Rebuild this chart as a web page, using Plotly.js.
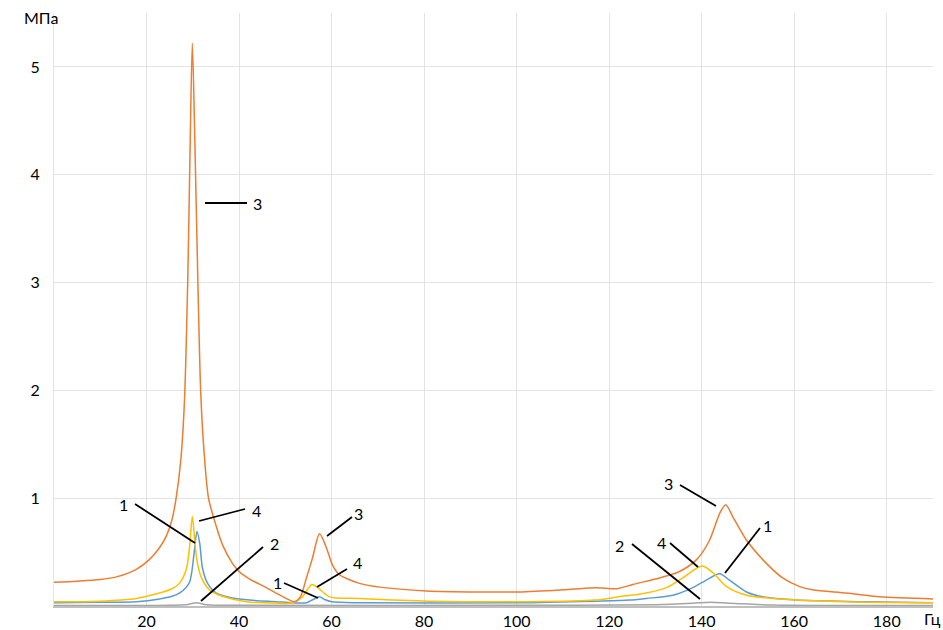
<!DOCTYPE html>
<html>
<head>
<meta charset="utf-8">
<script src="https://cdn.plot.ly/plotly-3.0.1.min.js"></script>
<style>html,body{margin:0;padding:0;background:#fff;}#chart{width:943px;height:630px;}</style>
</head>
<body>
<div id="chart"></div>
<script>
// Series 1 (blue)
const x1 = [0, 10, 17.8, 22.8, 25.5, 27.1, 28.5, 29.3, 29.8, 30.3, 30.9, 31.5, 32.1, 33.2, 35.1, 38.6, 42.3, 48, 51.6, 54.6, 56, 57.4, 58.5, 60, 66, 100, 117, 124.4, 128, 133.8, 138.1, 141, 143.9, 146, 149.7, 153.2, 160.5, 175, 190];
const y1 = [0.03, 0.035, 0.04, 0.065, 0.09, 0.12, 0.17, 0.22, 0.32, 0.5, 0.69, 0.58, 0.35, 0.21, 0.12, 0.075, 0.055, 0.04, 0.03, 0.03, 0.06, 0.085, 0.06, 0.04, 0.03, 0.03, 0.045, 0.055, 0.07, 0.1, 0.17, 0.24, 0.3, 0.24, 0.13, 0.085, 0.055, 0.04, 0.03];
// Series 2 (grey)
const x2 = [0, 25, 29, 30.8, 33, 40, 100, 130, 138, 142, 146, 155, 190];
const y2 = [0.005, 0.008, 0.015, 0.03, 0.012, 0.006, 0.006, 0.012, 0.025, 0.035, 0.025, 0.01, 0.005];
// Series 3 (orange)
const x3 = [0, 5, 10, 13.5, 17.8, 20.6, 22.8, 24.3, 25.5, 26.4, 27.4, 28.2, 28.9, 29.4, 29.9, 30.4, 31.1, 31.7, 32.4, 33.4, 35, 36.5, 38.5, 40, 42.3, 45.9, 48, 50.2, 52, 53.3, 54.5, 55.9, 57.4, 58.8, 60.2, 61.7, 63.5, 66, 70.4, 80.5, 92, 100.6, 110, 117.3, 121.6, 125.1, 130.9, 135.2, 138.9, 141.7, 143.9, 145.2, 146.7, 149.7, 153.2, 157.5, 161.2, 164, 171.3, 178.5, 190];
const y3 = [0.22, 0.23, 0.245, 0.27, 0.34, 0.43, 0.54, 0.65, 0.8, 1.0, 1.35, 1.9, 3.0, 4.2, 5.22, 4.4, 3.0, 2.0, 1.45, 1.0, 0.75, 0.56, 0.4, 0.32, 0.25, 0.17, 0.12, 0.07, 0.04, 0.09, 0.25, 0.45, 0.67, 0.55, 0.38, 0.29, 0.25, 0.21, 0.175, 0.14, 0.13, 0.13, 0.15, 0.17, 0.16, 0.2, 0.26, 0.32, 0.43, 0.61, 0.86, 0.94, 0.83, 0.61, 0.43, 0.26, 0.18, 0.15, 0.12, 0.085, 0.065];
// Series 4 (yellow)
const x4 = [0, 9.8, 17.8, 22.8, 25.5, 27.1, 28.6, 29.3, 29.9, 30.4, 30.9, 31.8, 33.6, 36.4, 41.6, 46, 51.6, 53.7, 55.7, 57, 59.6, 66, 81, 102.8, 117, 122, 128, 132.4, 135.9, 138.9, 140.2, 142.4, 145.4, 149.7, 156.8, 171.3, 190];
const y4 = [0.04, 0.045, 0.07, 0.12, 0.16, 0.21, 0.34, 0.55, 0.83, 0.62, 0.42, 0.27, 0.15, 0.09, 0.04, 0.03, 0.03, 0.085, 0.2, 0.17, 0.085, 0.07, 0.045, 0.04, 0.055, 0.085, 0.12, 0.17, 0.26, 0.35, 0.37, 0.31, 0.18, 0.1, 0.065, 0.04, 0.03];

const xTicks = [20, 40, 60, 80, 100, 120, 140, 160, 180];
const yTicks = [1, 2, 3, 4, 5];

// Callout labels: text, label pixel position, line from (px,py) to (px,py)
const callouts = [
  {t: '3', lx: 257, ly: 203, a: [205, 203, 247, 203]},
  {t: '1', lx: 123, ly: 504, a: [135, 504, 195, 543]},
  {t: '4', lx: 256, ly: 510, a: [199, 521, 245, 509]},
  {t: '2', lx: 274, ly: 543, a: [201, 601, 263, 547]},
  {t: '3', lx: 358, ly: 513, a: [327, 536, 352, 517]},
  {t: '4', lx: 357, ly: 562, a: [317, 587, 347, 569]},
  {t: '1', lx: 277, ly: 582, a: [284, 583, 318, 598]},
  {t: '3', lx: 668, ly: 483, a: [680, 485, 716, 506]},
  {t: '1', lx: 767, ly: 525, a: [725, 573, 760, 528]},
  {t: '4', lx: 661, ly: 542, a: [670, 543, 698, 567]},
  {t: '2', lx: 619, ly: 545, a: [632, 544, 700, 599]}
];

const L = 54, R = 10, T = 13, B = 24, W = 943, H = 630;
const pw = W - L - R, ph = H - T - B;
const px = v => (v - L) / pw;
const py = v => (H - B - v) / ph;

const FONT = 'Lato, "Open Sans", sans-serif';
const mk = (x, y, c) => ({x: x, y: y, type: 'scatter', mode: 'lines', line: {color: c, width: 1.5, shape: 'spline', smoothing: 0.8}, hoverinfo: 'skip'});
const data = [mk(x2, y2, '#A5A5A5'), mk(x1, y1, '#5B9BD5'), mk(x4, y4, '#FFC000'), mk(x3, y3, '#ED7D31')];

const shapes = callouts.map(c => ({type: 'line', xref: 'paper', yref: 'paper', x0: px(c.a[0]), y0: py(c.a[1]), x1: px(c.a[2]), y1: py(c.a[3]), line: {color: '#000', width: 1.8}}));
const annotations = callouts.map(c => ({text: c.t, xref: 'paper', yref: 'paper', x: px(c.lx), y: py(c.ly), xanchor: 'center', yanchor: 'middle', showarrow: false, font: {family: FONT, size: 16, color: '#000'}}));
annotations.push({text: 'МПа', xref: 'paper', yref: 'paper', x: px(41), y: py(18), xanchor: 'center', yanchor: 'middle', showarrow: false, font: {family: FONT, size: 16, color: '#000'}});
annotations.push({text: 'Гц', xref: 'paper', yref: 'paper', x: px(922), y: py(618), xanchor: 'left', yanchor: 'middle', showarrow: false, font: {family: FONT, size: 16, color: '#000'}});

const layout = {
  width: W, height: H,
  margin: {l: L, r: R, t: T, b: B, pad: 0},
  paper_bgcolor: '#fff', plot_bgcolor: '#fff',
  showlegend: false,
  font: {family: FONT, size: 16, color: '#000'},
  xaxis: {range: [0, 190], tickvals: xTicks, ticktext: xTicks.map(String), showgrid: true, gridcolor: '#e3e3e3', gridwidth: 1,
          zeroline: false, showline: true, linecolor: '#bfbfbf', linewidth: 1.5, ticks: '', ticklen: 0, tickfont: {family: FONT, size: 16, color: '#000'}, fixedrange: true},
  yaxis: {range: [0, 5.5], tickvals: yTicks, ticktext: yTicks.map(String), showgrid: true, gridcolor: '#e3e3e3', gridwidth: 1,
          zeroline: false, showline: true, linecolor: '#e3e3e3', linewidth: 1, ticks: 'outside', ticklen: 10, tickcolor: 'rgba(0,0,0,0)', tickfont: {family: FONT, size: 16, color: '#000'}, fixedrange: true},
  shapes: shapes,
  annotations: annotations
};

Plotly.newPlot('chart', data, layout, {displayModeBar: false, staticPlot: true});
</script>
</body>
</html>
